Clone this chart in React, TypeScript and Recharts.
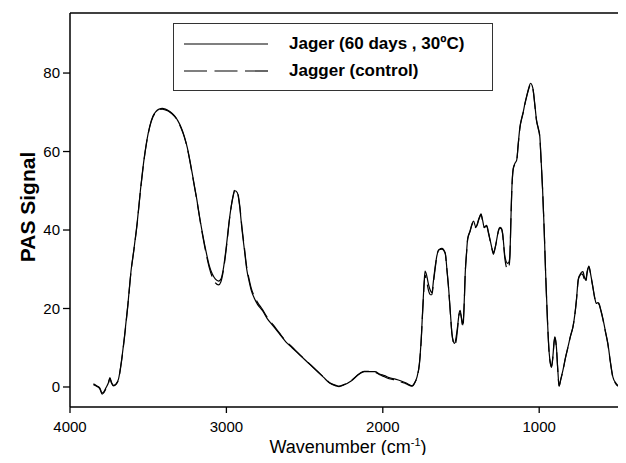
import React from 'react';
import { LineChart, Line, XAxis, YAxis, ReferenceLine } from 'recharts';

const wavenumbers = [
  3850, 3830, 3810, 3795, 3785, 3770, 3755, 3745, 3735, 3722, 3705, 3690, 3670, 3650, 3630, 3610, 3590, 3570, 3550, 3530,
  3510, 3490, 3470, 3450, 3430, 3410, 3390, 3370, 3350, 3330, 3310, 3290, 3270, 3250, 3230, 3210, 3190, 3170, 3150, 3130,
  3110, 3090, 3070, 3050, 3035, 3020, 3000, 2980, 2960, 2945, 2930, 2915, 2900, 2885, 2870, 2855, 2840, 2820, 2800, 2770,
  2740, 2700, 2660, 2620, 2580, 2540, 2500, 2460, 2420, 2380, 2340, 2300, 2280, 2250, 2200, 2150, 2120, 2080, 2050, 2020,
  1990, 1960, 1920, 1887, 1850, 1813, 1795, 1781, 1766, 1756, 1742, 1730, 1720, 1707, 1695, 1686, 1675, 1664, 1654, 1640,
  1622, 1601, 1590, 1580, 1568, 1558, 1548, 1541, 1530, 1522, 1512, 1505, 1496, 1488, 1480, 1473, 1465, 1457, 1442, 1430,
  1420, 1406, 1396, 1389, 1380, 1372, 1362, 1352, 1336, 1325, 1314, 1300, 1293, 1282, 1272, 1260, 1251, 1242, 1234, 1225,
  1219, 1202, 1192, 1187, 1180, 1176, 1166, 1155, 1144, 1134, 1123, 1112, 1102, 1090, 1081, 1068, 1055, 1045, 1038, 1028,
  1017, 1006, 996, 988, 979, 968, 958, 946, 936, 928, 921, 912, 905, 900, 895, 890, 882, 873, 862, 848,
  832, 816, 800, 784, 772, 762, 750, 741, 730, 720, 712, 703, 693, 682, 670, 657, 646, 635, 625, 618,
  605, 593, 578, 561, 545, 529, 510, 486, 470, 448,
];

const jager = [
  0.8, 0.3, -0.2, -1.5, -1.3, -0.2, 1.0, 2.4, 1.2, 0.4, 0.8, 2.0, 6.9, 13.5, 21, 29.5, 35.5, 42, 50, 57,
  62.5, 66.5, 69, 70.2, 70.8, 71.0, 70.8, 70.4, 69.8, 69.0, 67.8, 66.2, 64, 61, 57, 52.5, 48, 43, 38.5, 34.5,
  31, 28.8, 27.5, 27, 27.5, 30, 36, 43, 48, 50, 49.5, 46, 40, 35, 30, 27, 24.5, 22.5, 21, 19.5,
  17.5, 15.5, 13.5, 11.5, 10, 8.5, 7, 5.5, 4, 2.5, 1, 0.3, 0.1, 0.5, 1.6, 3.3, 3.9, 3.9, 3.9, 3.3,
  2.9, 2.4, 2.0, 1.6, 1.0, 0.3, 1.2, 2.6, 6, 11.1, 22, 29.5, 28.5, 26, 24.5, 24, 27.5, 31, 33.5, 35,
  35.3, 34.2, 30, 25.6, 19, 13.7, 11.5, 11.1, 13, 15.4, 18.5, 18.8, 17.5, 15.8, 21, 29, 34, 37.9, 39.8, 41.5,
  42.3, 40.8, 41.5, 42.5, 43.5, 44.1, 42.5, 40.8, 41.2, 39.5, 37.5, 35, 34.2, 35.5, 37.5, 40, 40.7, 40.5, 39.2, 35.5,
  33.2, 31.5, 32, 34, 44, 49.3, 55.7, 57, 57.8, 62, 66.3, 68.5, 70.1, 72.5, 74, 76, 77.4, 76.8, 75.6, 72,
  68, 66, 63.8, 58, 51, 40, 28.1, 16, 8.6, 6, 5.2, 8, 11.5, 12.8, 12, 10.2, 5, 0.3, 2, 4.3,
  7.5, 10.2, 13, 15.4, 18.5, 22.2, 27.5, 28.5, 29.2, 29.4, 28.2, 27.2, 29.5, 30.8, 28.5, 25.6, 23, 21.3, 21.5, 21.3,
  19.5, 17.5, 14.5, 11.1, 6.5, 2.6, 1, 0.1, -0.1, -0.3,
];

const control = [
  0.6, 0.2, -0.4, -1.8, -1.5, -0.4, 0.8, 2.2, 1.0, 0.3, 0.7, 1.9, 6.7, 13.2, 20.8, 29.3, 35.3, 41.8, 49.8, 56.8,
  62.3, 66.3, 68.8, 70.0, 70.6, 70.8, 70.6, 70.3, 69.7, 68.9, 67.7, 66.0, 63.8, 60.8, 56.8, 52.3, 47.8, 42.8, 38.2, 34.0,
  30.5, 28.0, 26.5, 26.0, 26.8, 29.5, 35.5, 42.8, 48.2, 50.3, 49.8, 46.3, 40.5, 35.5, 30.5, 27.5, 25.0, 23.0, 21.5, 19.8,
  17.8, 15.8, 13.7, 11.7, 10.2, 8.6, 7.1, 5.6, 4.1, 2.6, 1.1, 0.4, 0.2, 0.6, 1.7, 3.4, 4.0, 4.0, 3.8, 3.1,
  2.6, 2.1, 1.8, 1.3, 0.8, 0.2, 1.1, 2.5, 5.8, 10.8, 21.5, 28.5, 27.0, 24.5, 23.5, 23.5, 27.0, 30.5, 33.5, 35,
  35.1, 34.0, 29.8, 25.4, 18.8, 13.5, 11.2, 10.6, 12.0, 14.8, 18.8, 19.5, 17.0, 15.2, 20.5, 28.8, 33.8, 37.7, 39.6, 41.3,
  42.1, 40.6, 41.3, 42.3, 43.3, 43.9, 42.3, 40.6, 41.0, 39.3, 37.3, 34.8, 33.8, 35.3, 37.3, 39.8, 40.5, 40.3, 39.0, 35.0,
  32.5, 30.0, 31.0, 33.5, 43.8, 49.1, 55.5, 56.8, 57.6, 61.8, 66.1, 68.3, 69.9, 72.3, 73.8, 75.8, 77.1, 76.6, 75.4, 71.8,
  67.8, 65.8, 63.6, 57.8, 50.8, 39.8, 27.9, 15.8, 8.4, 5.8, 5.0, 7.8, 11.3, 12.6, 11.8, 10.0, 4.8, 0.2, 1.9, 4.2,
  7.4, 10.1, 12.9, 15.3, 18.4, 22.0, 27.3, 28.3, 28.8, 28.5, 27.5, 26.5, 29.2, 30.6, 28.3, 25.4, 22.8, 21.1, 21.3, 21.1,
  19.3, 17.3, 14.3, 10.9, 6.3, 2.4, 0.8, 0.0, -0.2, -0.5,
];

const xTicks = [4000, 3000, 2000, 1000];
const yTicks = [0, 20, 40, 60, 80];
const seriesNames = ['Jager (60 days , 30ºC)', 'Jagger (control)'];
const xTitle = 'Wavenumber (cm';
const xTitleSup = '-1';
const yTitle = 'PAS Signal';

const data = wavenumbers.map((wn, i) => ({ wn, jager: jager[i], control: control[i] }));

const FONT = '"Liberation Sans", Arial, sans-serif';

const LegendBox = () => (
  <div
    style={{
      position: 'absolute',
      left: 173,
      top: 23,
      width: 320,
      height: 68,
      border: '1px solid #333',
      boxSizing: 'border-box',
      background: '#fff',
      fontFamily: FONT,
      fontWeight: 'bold',
      fontSize: 17,
      color: '#000',
    }}
  >
    {seriesNames.map((name, i) => (
      <div key={name} style={{ position: 'absolute', left: 0, top: i === 0 ? 10 : 37, height: 20, width: '100%' }}>
        <svg width={100} height={20} style={{ position: 'absolute', left: 0, top: 0 }}>
          <line
            x1={10}
            x2={94}
            y1={10}
            y2={10}
            stroke="#000"
            strokeWidth={1.2}
            strokeDasharray={i === 0 ? undefined : '23 7.5'}
          />
        </svg>
        <span style={{ position: 'absolute', left: 115, top: 0, whiteSpace: 'nowrap', lineHeight: '20px' }}>{name}</span>
      </div>
    ))}
  </div>
);

const XTitle = (props: any) => {
  const vb = props.viewBox || {};
  const cx = (vb.x || 0) + (vb.width || 0) / 2;
  return (
    <text x={cx} y={453} textAnchor="middle" fontFamily={FONT} fontSize={18} fill="#000">
      {xTitle}
      <tspan fontSize={11} dy={-7}>{xTitleSup}</tspan>
      <tspan dy={7}>)</tspan>
    </text>
  );
};

const YTitle = () => {
  const cy = 207;
  return (
    <text
      x={27}
      y={cy}
      transform={`rotate(-90, 27, ${cy})`}
      textAnchor="middle"
      dominantBaseline="central"
      fontFamily={FONT}
      fontWeight="bold"
      fontSize={21}
      fill="#000"
    >
      {yTitle}
    </text>
  );
};

export default function App() {
  return (
    <div style={{ margin: -8, width: 626, height: 463, background: '#fff', position: 'relative' }}>
      <LineChart width={626} height={463} data={data} margin={{ top: 13, right: 0, bottom: 0, left: 0 }}>
        <XAxis
          dataKey="wn"
          type="number"
          domain={[445, 4000]}
          reversed
          ticks={xTicks}
          allowDataOverflow
          height={56}
          tickSize={6}
          tickMargin={8}
          axisLine={{ stroke: '#000', strokeWidth: 1.5 }}
          tickLine={{ stroke: '#000', strokeWidth: 1.3 }}
          tick={{ fill: '#000', fontSize: 15, fontFamily: FONT }}
          label={<XTitle />}
        />
        <YAxis
          type="number"
          domain={[-5.1, 95.3]}
          ticks={yTicks}
          allowDataOverflow
          width={70}
          tickSize={7}
          tickMargin={3}
          axisLine={{ stroke: '#000', strokeWidth: 1.5 }}
          tickLine={{ stroke: '#000', strokeWidth: 1.3 }}
          tick={{ fill: '#000', fontSize: 15, fontFamily: FONT }}
          label={<YTitle />}
        />
        <ReferenceLine y={95.3} stroke="#000" strokeWidth={1.5} />
        <Line
          type="monotone"
          dataKey="control"
          name={seriesNames[1]}
          stroke="#000"
          strokeWidth={1.2}
          strokeDasharray="20 7"
          dot={false}
          isAnimationActive={false}
        />
        <Line
          type="monotone"
          dataKey="jager"
          name={seriesNames[0]}
          stroke="#000"
          strokeWidth={1.2}
          dot={false}
          isAnimationActive={false}
        />
      </LineChart>
      <LegendBox />
    </div>
  );
}
